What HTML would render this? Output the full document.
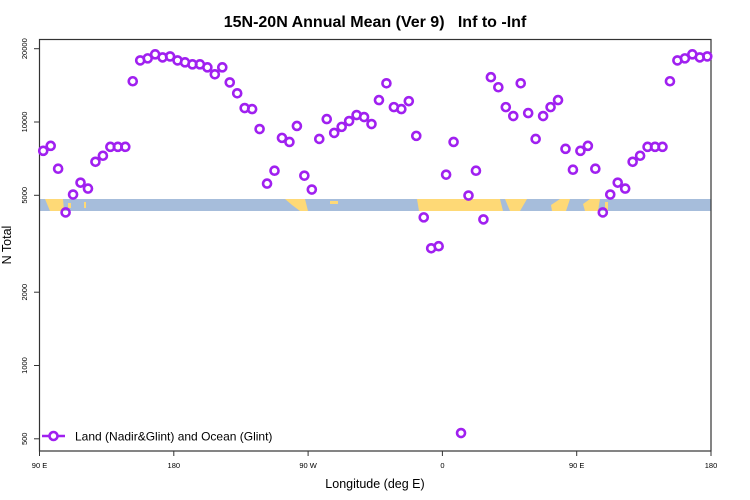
<!DOCTYPE html>
<html><head><meta charset="utf-8"><style>
html,body{margin:0;padding:0;background:#fff;}
svg{display:block;font-family:"Liberation Sans",Arial,sans-serif;}
</style></head><body>
<svg id="chart" width="750" height="500" viewBox="0 0 750 500">
<text x="375" y="27" text-anchor="middle" font-size="16" font-weight="bold">15N-20N Annual Mean (Ver 9)&#160;&#160; Inf to -Inf</text>
<g id="band">
<rect x="39.5" y="199" width="671.5" height="12" fill="#a6bddb"/>
<g fill="#fed976">
<polygon points="45,199 63,199 64,211 50,211"/>
<rect x="68" y="203" width="3" height="5"/>
<rect x="84" y="202" width="2" height="6"/>
<polygon points="285,199 305,199 308,211 300,211 292,205"/>
<rect x="330" y="201" width="8" height="3"/>
<polygon points="417,199 500,199 503,211 419,211"/>
<polygon points="505,199 527,199 520,211 510,211"/>
<polygon points="551,205 560,199 570,199 566,211 552,211"/>
<polygon points="583,204 590,199 600,199 598,211 585,211"/>
<rect x="605" y="202" width="3" height="9"/>
</g>
</g>
<rect x="39.5" y="39.5" width="671.5" height="411.5" fill="none" stroke="#333" stroke-width="1.2"/>
<g id="yaxis"></g>
<g id="xaxis"></g>
<text x="375" y="488" text-anchor="middle" font-size="12.5">Longitude (deg E)</text>
<text transform="translate(11,245) rotate(-90)" text-anchor="middle" font-size="12.5">N Total</text>
<g id="points"></g>
<g>
<line x1="42" y1="436" x2="65" y2="436" stroke="#a020f0" stroke-width="2.5"/>
<circle cx="53.5" cy="436" r="4" fill="#fff" stroke="#a020f0" stroke-width="2.6"/>
<text x="75" y="440.5" font-size="12">Land (Nadir&amp;Glint) and Ocean (Glint)</text>
</g>
</svg>
<script>
const yTicks = [500, 1000, 2000, 5000, 10000, 20000];
const xTickLons = [90, 180, 270, 360, 450, 540];
const xTickLabels = ["90 E", "180", "90 W", "0", "90 E", "180"];
const lons = [];
for (let l = 92.5; l <= 540; l += 5) lons.push(l);
const nTotal = [7613,7980,6430,4252,5036,5636,5328,6866,7268,7906,7906,7906,14700,17900,18250,18960,18420,18590,17900,17580,17250,17250,16770,15700,16770,14540,13120,11410,11300,9355,5585,6310,8606,8280,9630,6020,5280,8520,10280,9020,9550,10090,10680,10480,9810,12300,14420,11510,11300,12180,8770,4058,3030,3090,6077,8280,528,4988,6310,3981,15270,13890,11510,10580,14420,10880,8520,10580,11510,12300,7760,6370,7613,7980,6430,4252,5036,5636,5328,6866,7268,7906,7906,7906,14700,17900,18250,18960,18420,18590];
const NS = "http://www.w3.org/2000/svg";
function xs(lon){ return 39.5 + (lon - 90) * (671.5 / 450); }
function ys(v){ return 122 + (4 - Math.log10(v)) * 243.5; }
const ya = document.getElementById('yaxis');
yTicks.forEach(v => {
  const y = ys(v);
  const t = document.createElementNS(NS, 'line');
  t.setAttribute('x1', 34); t.setAttribute('x2', 39.5); t.setAttribute('y1', y); t.setAttribute('y2', y);
  t.setAttribute('stroke', '#333');
  
  
  ya.appendChild(t);
  const tx = document.createElementNS(NS, 'text');
  tx.setAttribute('transform', 'translate(27,' + y + ') rotate(-90)');
  tx.setAttribute('text-anchor', 'middle'); tx.setAttribute('font-size', '7.5');
  tx.textContent = String(v);
  
  
  ya.appendChild(tx);
});
const xa = document.getElementById('xaxis');
xTickLons.forEach((l, i) => {
  const x = xs(l);
  const t = document.createElementNS(NS, 'line');
  t.setAttribute('x1', x); t.setAttribute('x2', x); t.setAttribute('y1', 451); t.setAttribute('y2', 456);
  t.setAttribute('stroke', '#333');
  
  
  xa.appendChild(t);
  const tx = document.createElementNS(NS, 'text');
  tx.setAttribute('x', x); tx.setAttribute('y', 468);
  tx.setAttribute('text-anchor', 'middle'); tx.setAttribute('font-size', '7.5');
  tx.textContent = xTickLabels[i];
  
  
  xa.appendChild(tx);
});
const pg = document.getElementById('points');
lons.forEach((l, i) => {
  const c = document.createElementNS(NS, 'circle');
  c.setAttribute('cx', xs(l)); c.setAttribute('cy', ys(nTotal[i])); c.setAttribute('r', 4);
  c.setAttribute('fill', 'none'); c.setAttribute('stroke', '#a020f0'); c.setAttribute('stroke-width', '2.6');
  
  
  pg.appendChild(c);
});
</script>
</body></html>
